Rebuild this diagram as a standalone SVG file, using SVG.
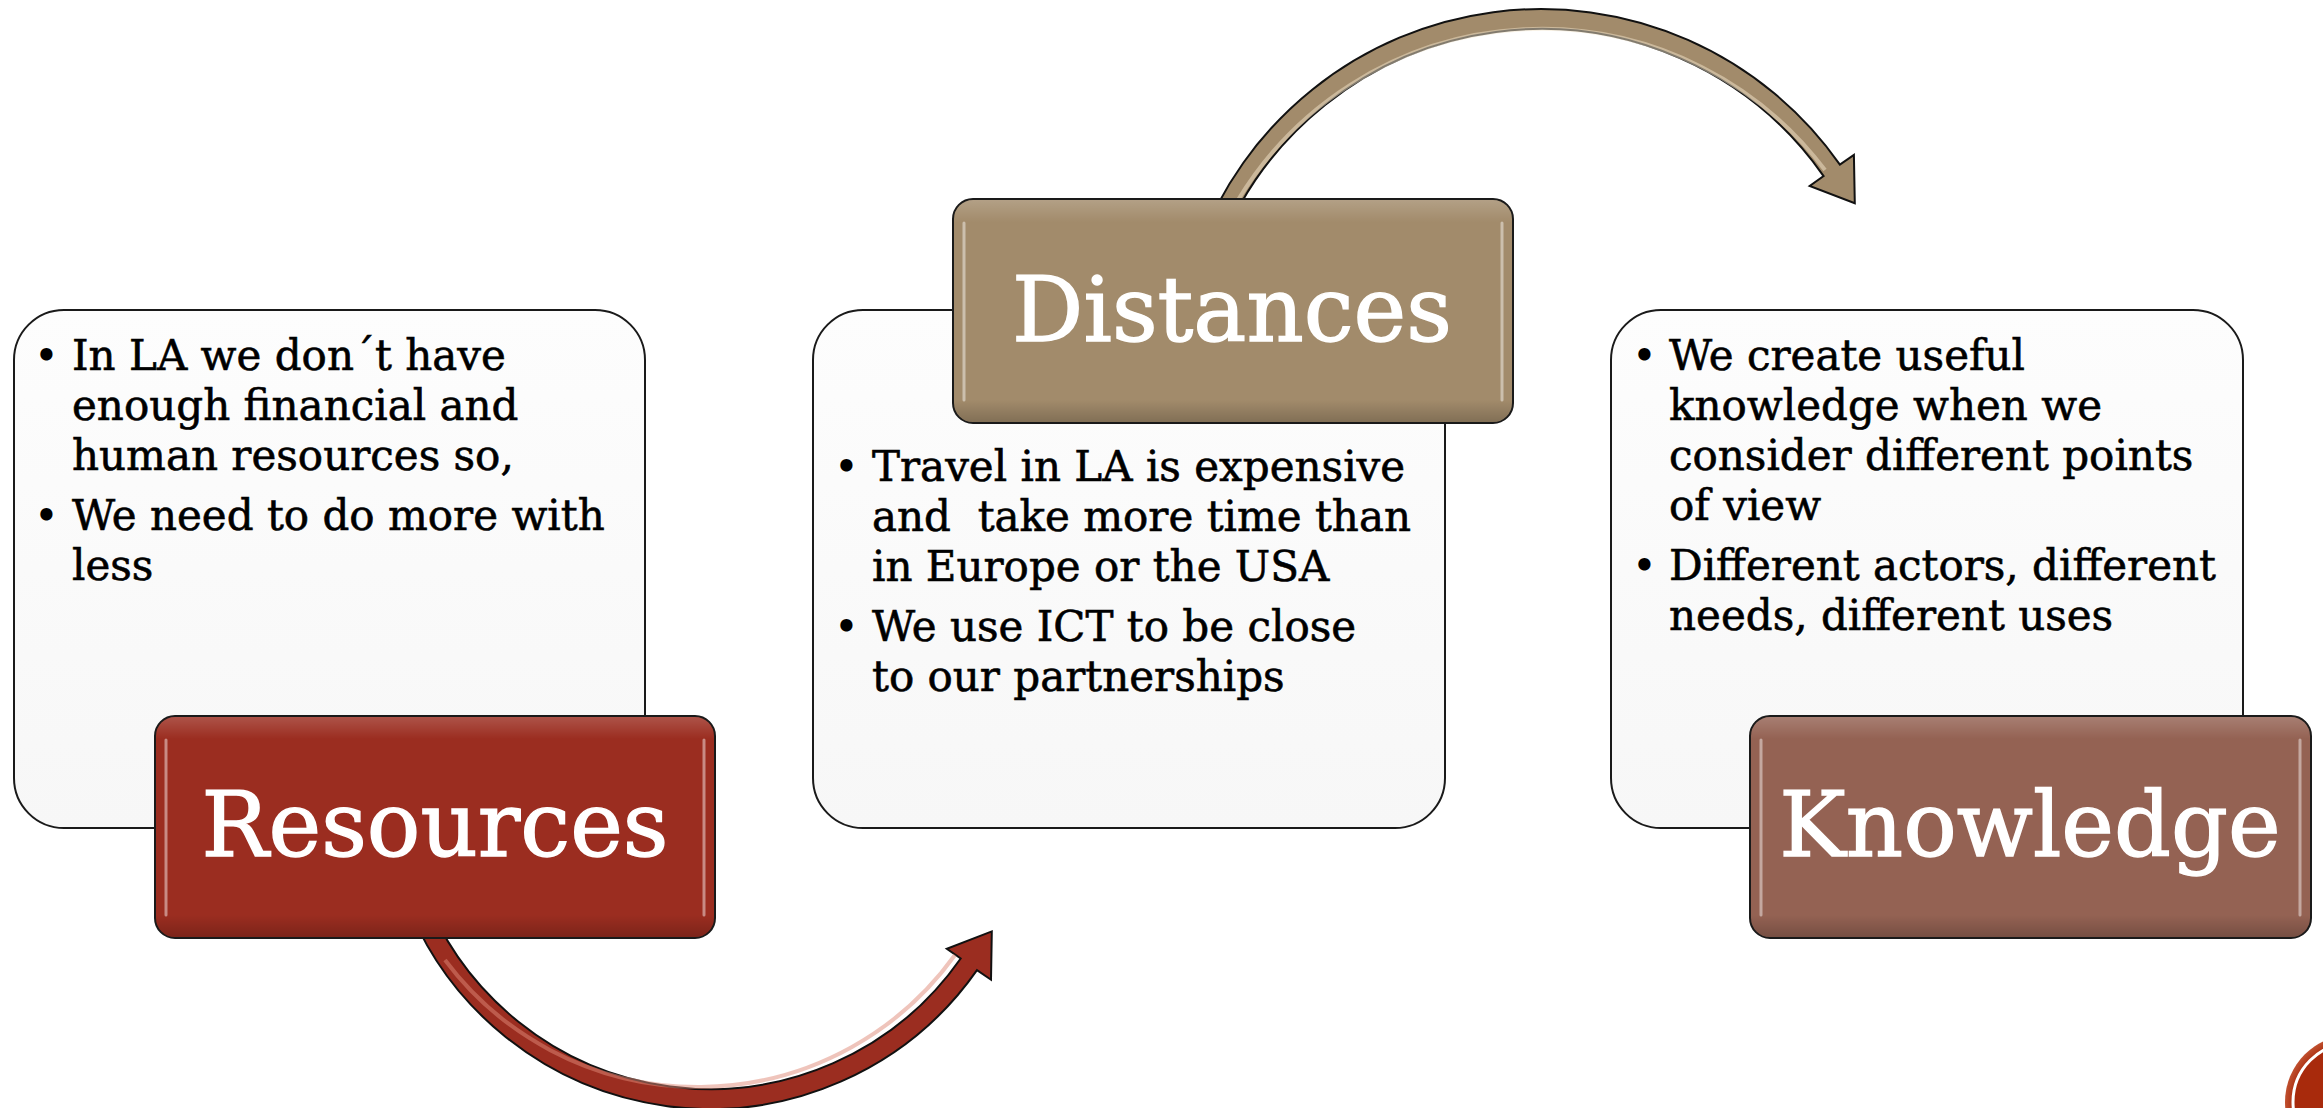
<svg xmlns="http://www.w3.org/2000/svg" width="2323" height="1108" viewBox="0 0 2323 1108">
<defs>
<style>
.card{fill:url(#cardG);stroke:#1a1a1a;stroke-width:2}
.hdr{stroke:#1a1a1a;stroke-width:2}
.gl{fill:none;stroke:#ffffff;stroke-opacity:0.45;stroke-width:3;stroke-linecap:round}
.sh{fill:url(#shade)}
.bt{font-family:"DejaVu Serif","Liberation Serif",serif;font-size:42px;fill:#000;stroke:#000;stroke-width:0.6}
.bl{font-family:"DejaVu Serif","Liberation Serif",serif;font-size:42px;fill:#000}
.ht{font-family:"DejaVu Serif","Liberation Serif",serif;font-size:89px;fill:#fff;stroke:#fff;stroke-width:1.4;text-anchor:middle}
.arr{stroke:#111;stroke-width:2;stroke-linejoin:miter}
</style>
<linearGradient id="cardG" x1="0" y1="0" x2="0" y2="1">
<stop offset="0" stop-color="#fdfdfd"/><stop offset="1" stop-color="#f7f7f7"/>
</linearGradient>
<linearGradient id="shade" x1="0" y1="0" x2="0" y2="1">
<stop offset="0" stop-color="#ffffff" stop-opacity="0.18"/>
<stop offset="0.1" stop-color="#ffffff" stop-opacity="0"/>
<stop offset="0.9" stop-color="#000000" stop-opacity="0"/>
<stop offset="1" stop-color="#000000" stop-opacity="0.2"/>
</linearGradient>
<radialGradient id="badge" cx="0.5" cy="0.5" r="0.5">
<stop offset="0.85" stop-color="#a82a0c"/><stop offset="1" stop-color="#c0502f"/>
</radialGradient>
</defs>

<g id="connectors">
<path id="arrow-resources-distances" class="arr" fill="#9b2d20" d="M 403.7 894.5 A 326 326 0 0 0 977.0 970.1 L 991.0 979.7 L 991.8 931.4 L 946.8 948.7 L 960.7 958.5 A 306 306 0 0 1 422.4 887.7 Z"/>
<path fill="none" stroke="#e08a78" stroke-opacity="0.5" stroke-width="4" d="M 445 960 A 316 316 0 0 0 955 955"/>
<path id="arrow-distances-knowledge" class="arr" fill="#a28b6b" d="M 1198 249.2 A 365 365 0 0 1 1839.9 164.6 L 1853.9 154.9 L 1854.8 203.2 L 1809.7 185.9 L 1823.6 176.1 A 345 345 0 0 0 1216.8 256 Z"/>
<path fill="none" stroke="#f3e6cc" stroke-opacity="0.5" stroke-width="4" d="M 1238 200 A 355 355 0 0 1 1825 170"/>
</g>

<g id="node-resources-text">
<rect class="card" x="14" y="310" width="631" height="518" rx="50"/>
<text class="bl" x="34" y="370">•</text>
<text class="bt" x="72" y="370">In LA we don´t have</text>
<text class="bt" x="72" y="420">enough financial and</text>
<text class="bt" x="72" y="470">human resources so,</text>
<text class="bl" x="34" y="530">•</text>
<text class="bt" x="72" y="530">We need to do more with</text>
<text class="bt" x="72" y="580">less</text>
</g>

<g id="node-distances-text">
<rect class="card" x="813" y="310" width="632" height="518" rx="50"/>
<text class="bl" x="834" y="481">•</text>
<text class="bt" x="872" y="481">Travel in LA is expensive</text>
<text class="bt" x="872" y="531" xml:space="preserve">and  take more time than</text>
<text class="bt" x="872" y="581">in Europe or the USA</text>
<text class="bl" x="834" y="641">•</text>
<text class="bt" x="872" y="641">We use ICT to be close</text>
<text class="bt" x="872" y="691">to our partnerships</text>
</g>

<g id="node-knowledge-text">
<rect class="card" x="1611" y="310" width="632" height="518" rx="50"/>
<text class="bl" x="1632" y="370">•</text>
<text class="bt" x="1669" y="370">We create useful</text>
<text class="bt" x="1669" y="420">knowledge when we</text>
<text class="bt" x="1669" y="470">consider different points</text>
<text class="bt" x="1669" y="520">of view</text>
<text class="bl" x="1632" y="580">•</text>
<text class="bt" x="1669" y="580">Different actors, different</text>
<text class="bt" x="1669" y="630">needs, different uses</text>
</g>

<g id="node-resources">
<rect class="hdr" x="155" y="716" width="560" height="222" rx="20" fill="#9b2d20"/>
<rect class="sh" x="156" y="717" width="558" height="220" rx="19"/>
<path class="gl" d="M 166 740 L 166 915 M 704 740 L 704 915"/>
<text class="ht" x="435" y="856">Resources</text>
</g>

<g id="node-distances">
<rect class="hdr" x="953" y="199" width="560" height="224" rx="20" fill="#a28b6b"/>
<rect class="sh" x="954" y="200" width="558" height="222" rx="19"/>
<path class="gl" d="M 964 223 L 964 400 M 1502 223 L 1502 400"/>
<text class="ht" x="1232" y="341">Distances</text>
</g>

<g id="node-knowledge">
<rect class="hdr" x="1750" y="716" width="561" height="222" rx="20" fill="#946253"/>
<rect class="sh" x="1751" y="717" width="559" height="220" rx="19"/>
<path class="gl" d="M 1761 740 L 1761 915 M 2300 740 L 2300 915"/>
<text class="ht" x="2030" y="856">Knowledge</text>
</g>

<g id="slide-badge">
<circle cx="2352" cy="1102" r="67" fill="url(#badge)"/>
<circle cx="2352" cy="1102" r="59" fill="none" stroke="#ffffff" stroke-width="3"/>
</g>
</svg>
